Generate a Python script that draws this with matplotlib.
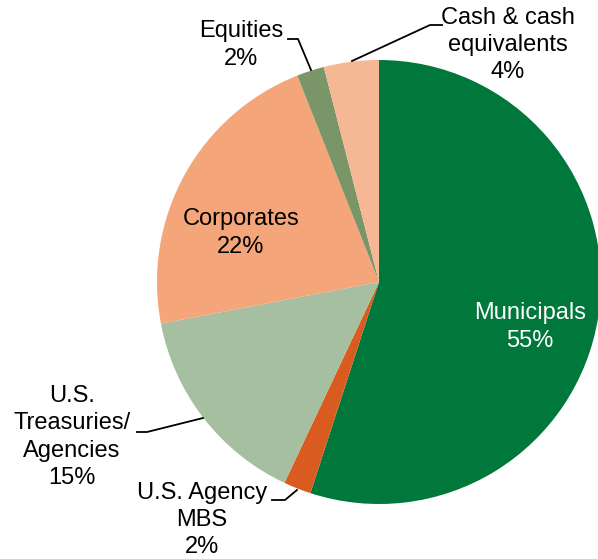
import matplotlib.pyplot as plt

plt.rcParams["font.family"] = ["Liberation Sans", "DejaVu Sans"]

# Allocation, clockwise from 12 o'clock
labels = ["Municipals", "U.S. Agency\nMBS", "U.S.\nTreasuries/\nAgencies",
          "Corporates", "Equities", "Cash & cash\nequivalents"]
shares = [55, 2, 15, 22, 2, 4]
colors = ["#00783C", "#D95B1F", "#A5BFA0", "#F4A57A", "#7A9668", "#F6B894"]

# Label placement in pixel coords (x, y measured from top)
label_pos = [(530, 327), (202, 520), (72, 437), (241, 233), (241, 45), (508, 45)]
label_color = ["white", "black", "black", "black", "black", "black"]
leaders = [
    None,
    [(272, 500), (285, 500), (297, 490)],
    [(137, 432), (147, 432), (203, 418)],
    None,
    [(288, 39), (298, 39), (311, 70)],
    [(442, 25), (430, 25), (352, 61)],
]

W, H = 598, 559
fig = plt.figure(figsize=(W / 100, H / 100), dpi=100)
ax = fig.add_axes([0, 0, 1, 1])

cx, cy, r = 379, 282, 222
ax.pie(shares, colors=colors, startangle=90, counterclock=False,
       center=(cx, H - cy), radius=r, wedgeprops={"linewidth": 0})

for lab, s, (x, y), c, ld in zip(labels, shares, label_pos, label_color, leaders):
    ax.text(x, H - y, f"{lab}\n{s}%", ha="center", va="center", fontsize=17,
            color=c, linespacing=1.3)
    if ld:
        xs, ys = zip(*ld)
        ax.plot(xs, [H - v for v in ys], color="black", lw=1.3)

ax.set_xlim(0, W)
ax.set_ylim(0, H)
ax.set_aspect("equal")
ax.axis("off")

fig.savefig("out.png", dpi=100)
